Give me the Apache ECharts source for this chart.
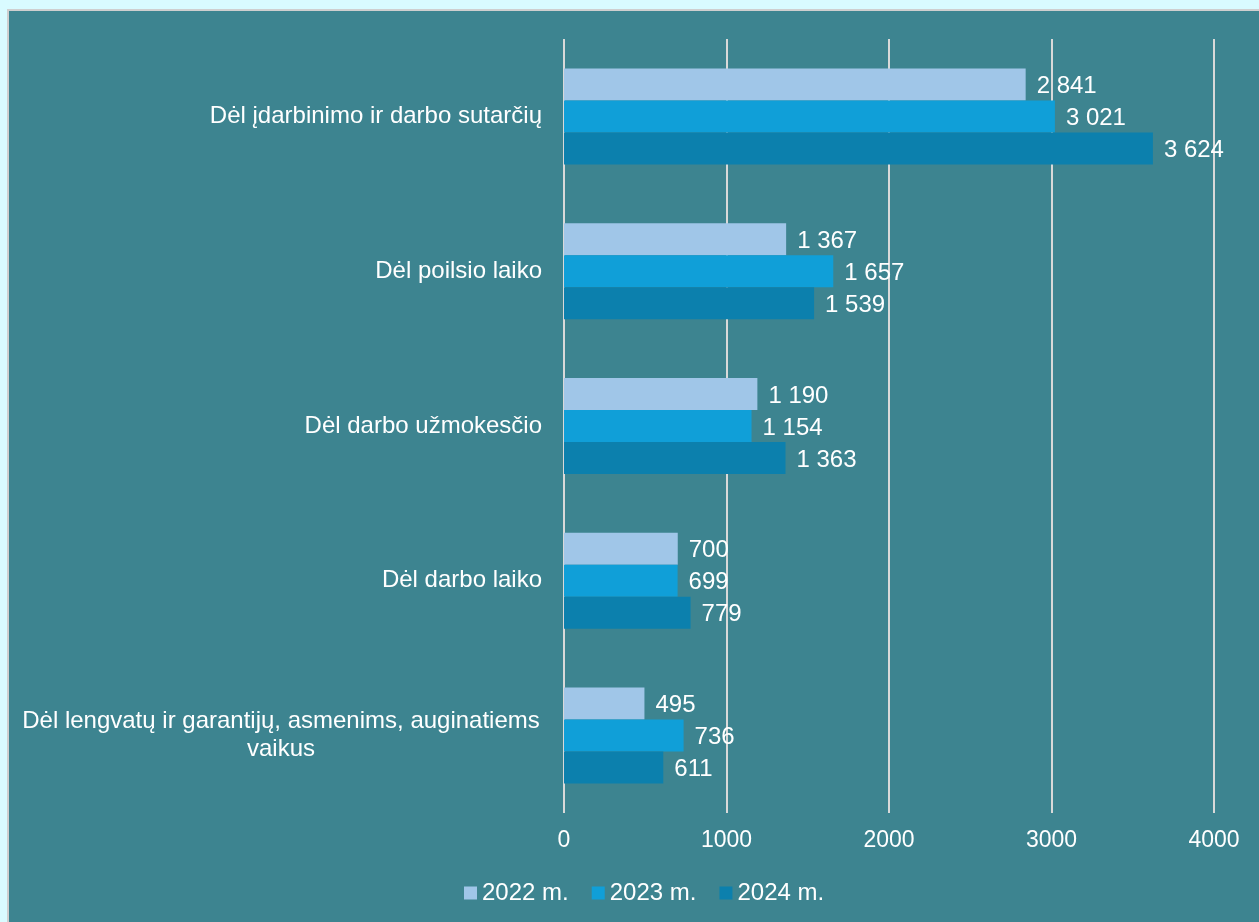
<!DOCTYPE html>
<html>
<head>
<meta charset="utf-8">
<script src="https://cdn.jsdelivr.net/npm/echarts@6/dist/echarts.min.js"></script>
<style>
  html, body { margin: 0; padding: 0; background: #d9fbff; width: 1259px; height: 922px; overflow: hidden; }
  #frame { position: absolute; left: 7px; top: 9px; width: 1252px; height: 913px; border-top: 2px solid #cfcfcf; border-left: 2px solid #cfcfcf; background: #3d8490; }
  #chart { width: 1250px; height: 911px; }
</style>
</head>
<body>
<div id="frame"><div id="chart"></div></div>
<script>
const categories = [
  'Dėl įdarbinimo ir darbo sutarčių',
  'Dėl poilsio laiko',
  'Dėl darbo užmokesčio',
  'Dėl darbo laiko',
  'Dėl lengvatų ir garantijų, asmenims, auginatiems vaikus'
];
const seriesNames = ['2022 m.', '2023 m.', '2024 m.'];
const values2022 = [2841, 1367, 1190, 700, 495];
const values2023 = [3021, 1657, 1154, 699, 736];
const values2024 = [3624, 1539, 1363, 779, 611];
const xTicks = [0, 1000, 2000, 3000, 4000];
const colors = ['#a0c6e8', '#109fd8', '#0c80ad'];
const FONT = 'Liberation Sans, Arial, sans-serif';

function fmtNum(v) {
  return String(v).replace(/\B(?=(\d{3})+(?!\d))/g, ' ');
}
function wrapLabel(s) {
  if (s.length <= 48) return s;
  const words = s.split(' ');
  let lines = [], cur = '';
  words.forEach(w => {
    const t = cur ? cur + ' ' + w : w;
    if (t.length > 48) { lines.push(cur); cur = w; } else cur = t;
  });
  if (cur) lines.push(cur);
  return lines.map(l => '{c|' + l + '}').join('\n');
}

const chart = echarts.init(document.getElementById('chart'));
const mk = (name, data, i) => ({
  name, type: 'bar', data,
  barWidth: 32, barGap: '0%',
  itemStyle: { color: colors[i] },
  label: {
    show: true, position: 'right', distance: 11, offset: [0, 2],
    color: '#ffffff', fontSize: 24, fontFamily: FONT,
    formatter: p => fmtNum(p.value)
  }
});
chart.setOption({
  animation: false,
  backgroundColor: '#3d8490',
  textStyle: { fontFamily: FONT },
  grid: { left: 555, right: 45, top: 28, bottom: 109 },
  xAxis: {
    type: 'value', min: 0, max: 4000, interval: 1000,
    axisLine: { show: false }, axisTick: { show: false },
    splitLine: { show: true, lineStyle: { color: '#d9d9d9', width: 2 } },
    axisLabel: { color: '#ffffff', fontSize: 23, margin: 16,
      formatter: v => xTicks.includes(v) ? String(v) : '' }
  },
  yAxis: {
    type: 'category', data: categories, inverse: true,
    axisLine: { show: false }, axisTick: { show: false },
    axisLabel: {
      color: '#ffffff', fontSize: 24, margin: 22, lineHeight: 28,
      formatter: wrapLabel,
      rich: { c: { color: '#ffffff', fontSize: 24, width: 522, align: 'center', lineHeight: 28 } }
    }
  },
  legend: {
    bottom: 12, left: 450,
    itemWidth: 13, itemHeight: 13, itemGap: 23, icon: 'rect',
    textStyle: { color: '#ffffff', fontSize: 24 },
    data: seriesNames
  },
  series: [mk(seriesNames[0], values2022, 0), mk(seriesNames[1], values2023, 1), mk(seriesNames[2], values2024, 2)]
});
</script>
</body>
</html>
